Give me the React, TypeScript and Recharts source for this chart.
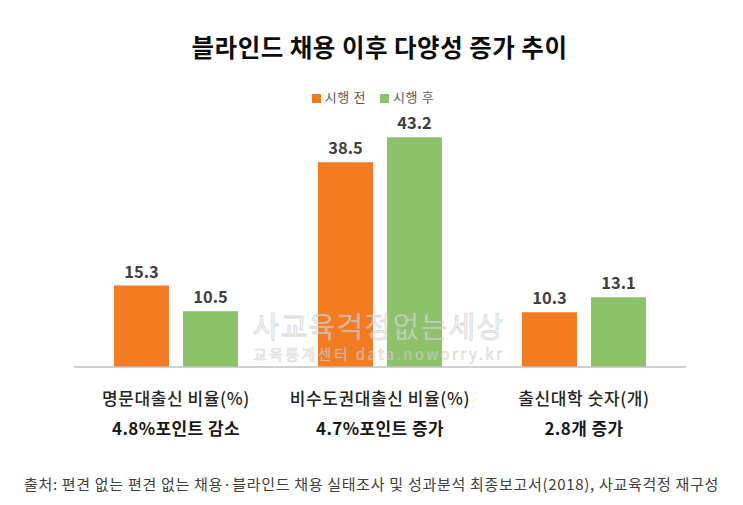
import React from 'react';
import { BarChart, Bar, XAxis, YAxis, Legend, LabelList } from 'recharts';

const categories = ['명문대출신 비율(%)', '비수도권대출신 비율(%)', '출신대학 숫자(개)'];
const subLabels = ['4.8%포인트 감소', '4.7%포인트 증가', '2.8개 증가'];
const beforeValues = [15.3, 38.5, 10.3];
const afterValues = [10.5, 43.2, 13.1];
const seriesNames = ['시행 전', '시행 후'];

const data = categories.map((c, i) => ({
  name: c,
  sub: subLabels[i],
  before: beforeValues[i],
  after: afterValues[i],
}));

const FONT = '"Noto Sans CJK KR", "Noto Sans", sans-serif';

const Tick = (props: any) => {
  const { x, y, index } = props;
  const d = data[index];
  return (
    <g>
      <text x={x} y={y + 30} textAnchor="middle" dominantBaseline="central" fontSize={17} fontWeight={500} letterSpacing={0.6} fill="#262626" fontFamily={FONT}>
        {d.name}
      </text>
      <text x={x} y={y + 60} textAnchor="middle" dominantBaseline="central" fontSize={17} fontWeight="bold" letterSpacing={0.4} fill="#1a1a1a" fontFamily={FONT}>
        {d.sub}
      </text>
    </g>
  );
};

export default function App() {
  return (
    <div style={{ position: 'absolute', left: 0, top: 0, width: 743, height: 505, background: '#fff', fontFamily: FONT }}>
      <div style={{ position: 'absolute', left: 0, width: 743, top: 31, textAlign: 'center', paddingLeft: 16, boxSizing: 'border-box', fontSize: 24.5, fontWeight: 'bold', color: '#0d0d0d', lineHeight: '32px', letterSpacing: 0.5 }}>
        블라인드 채용 이후 다양성 증가 추이
      </div>
      <BarChart
        width={743}
        height={505}
        data={data}
        margin={{ top: 82, right: 57, bottom: 68, left: 74 }}
        barCategoryGap="19.6%"
        barGap={14}
      >
        <XAxis
          dataKey="name"
          axisLine={{ stroke: '#bfbfbf', strokeWidth: 1.5 }}
          tickLine={false}
          tickSize={0}
          tickMargin={0}
          height={70}
          interval={0}
          tick={<Tick />}
        />
        <YAxis hide domain={[0, 50]} width={0} />
        <Legend
          verticalAlign="top"
          align="center"
          iconType="square"
          iconSize={9}
          wrapperStyle={{ top: 87, fontSize: 13, color: '#595959', fontFamily: FONT }}
          formatter={(v: any) => <span style={{ color: '#595959', letterSpacing: 0.6, paddingRight: 4 }}>{v}</span>}
        />
        <Bar dataKey="before" name={seriesNames[0]} fill="#f37b21" isAnimationActive={false}>
          <LabelList dataKey="before" position="top" offset={8} fill="#404040" fontSize={16.5} fontWeight="bold" fontFamily={FONT} />
        </Bar>
        <Bar dataKey="after" name={seriesNames[1]} fill="#8dc26b" isAnimationActive={false}>
          <LabelList dataKey="after" position="top" offset={8} fill="#404040" fontSize={16.5} fontWeight="bold" fontFamily={FONT} />
        </Bar>
      </BarChart>
      <div style={{ position: 'absolute', left: 0, width: 743, top: 311, textAlign: 'center', paddingLeft: 14, boxSizing: 'border-box', fontSize: 29, color: 'rgba(235,235,235,0.55)', WebkitTextStroke: '0.8px rgba(170,170,170,0.45)', lineHeight: '28px', letterSpacing: 1.3, pointerEvents: 'none' }}>
        사교육걱정없는세상
      </div>
      <div style={{ position: 'absolute', left: 0, width: 743, top: 346, textAlign: 'center', paddingLeft: 14, boxSizing: 'border-box', fontSize: 15, color: 'rgba(235,235,235,0.55)', WebkitTextStroke: '0.6px rgba(170,170,170,0.45)', lineHeight: '15px', letterSpacing: 2.4, pointerEvents: 'none' }}>
        교육통계센터 data.noworry.kr
      </div>
      <div style={{ position: 'absolute', left: 0, width: 743, top: 474, textAlign: 'center', fontSize: 15, color: '#404040', lineHeight: '20px', letterSpacing: 0.7, whiteSpace: 'nowrap' }}>
        출처: 편견 없는 편견 없는 채용·블라인드 채용 실태조사 및 성과분석 최종보고서(2018), 사교육걱정 재구성
      </div>
    </div>
  );
}
